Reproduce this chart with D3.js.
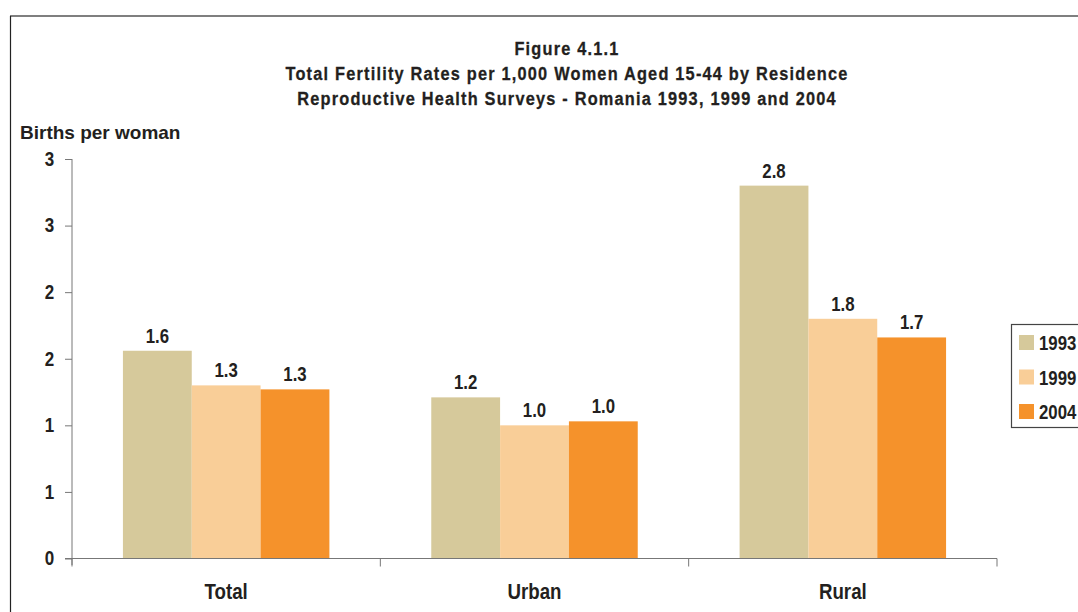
<html>
<head>
<script src="https://d3js.org/d3.v7.min.js"></script>
<style>
  body { margin: 0; background: #fff; }
  text { font-family: "Liberation Sans", Arial, sans-serif; font-weight: bold; fill: #231f20; }
</style>
</head>
<body>
<div id="chart-container"></div>
<script>
// Data
var categories = ["Total", "Urban", "Rural"]
var years = ["1993", "1999", "2004"]
var values1993 = [1.56, 1.21, 2.80]
var values1999 = [1.30, 1.00, 1.80]
var values2004 = [1.27, 1.03, 1.66]
var yTicks = [0, 0.5, 1, 1.5, 2, 2.5, 3]
var yTickLabels = ["0", "1", "1", "2", "2", "3", "3"]
var colors = ["#d6c99b", "#f9ce98", "#f5922b"]
var titleLines = ["Figure 4.1.1",
  "Total Fertility Rates per 1,000 Women Aged 15-44 by Residence",
  "Reproductive Health Surveys - Romania 1993, 1999 and 2004"]

const width = 1078
const height = 612
const series = [values1993, values1999, values2004]
const narrow = 0.8   // horizontal squeeze to mimic a condensed face

const svg = d3.select("#chart-container")
  .append("svg")
  .attr("width", width)
  .attr("height", height)

// frame lines (top and left)
svg.append("line").attr("x1", 10).attr("x2", width).attr("y1", 16).attr("y2", 16)
  .attr("stroke", "#555").attr("stroke-width", 1.5)
svg.append("line").attr("x1", 10.5).attr("x2", 10.5).attr("y1", 16).attr("y2", height)
  .attr("stroke", "#222").attr("stroke-width", 1.2)

// title
svg.selectAll(".title")
  .data(titleLines)
  .enter()
  .append("text")
  .attr("class", "title")
  .attr("transform", (d, i) => `translate(567,${55 + i * 25}) scale(0.86,1)`)
  .attr("text-anchor", "middle")
  .attr("font-size", 19)
  .attr("letter-spacing", 1.4)
  .style("stroke", "#231f20").style("stroke-width", 0.3)
  .text(d => d)

// scales
var x0 = d3.scaleBand().domain(categories).range([72, 997])
var x1 = d3.scaleBand().domain(years).range([0, x0.bandwidth()]).paddingInner(0).paddingOuter(0.74)
var y = d3.scaleLinear().domain([0, 3]).range([558.5, 159])

// bars
const groups = svg.selectAll(".grp")
  .data(categories)
  .enter()
  .append("g")
  .attr("transform", d => `translate(${x0(d)},0)`)

groups.selectAll("rect")
  .data((d, i) => years.map((yr, j) => ({ yr: yr, v: series[j][i], c: colors[j] })))
  .enter()
  .append("rect")
  .attr("x", d => x1(d.yr))
  .attr("width", x1.bandwidth())
  .attr("y", d => y(d.v))
  .attr("height", d => y(0) - y(d.v))
  .attr("fill", d => d.c)

groups.selectAll(".val")
  .data((d, i) => years.map((yr, j) => ({ yr: yr, v: series[j][i] })))
  .enter()
  .append("text")
  .attr("class", "val")
  .attr("transform", d => `translate(${x1(d.yr) + x1.bandwidth() / 2},${y(d.v) - 8}) scale(${narrow},1)`)
  .attr("text-anchor", "middle")
  .attr("font-size", 21)
  .text(d => d3.format(".1f")(d.v))

// y axis
const yAxis = svg.append("g")
  .attr("transform", "translate(72,0)")
  .call(d3.axisLeft(y).tickValues(yTicks).tickFormat((d, i) => yTickLabels[i]).tickSize(7).tickPadding(14))
yAxis.select(".domain").attr("stroke", "#777").attr("d", `M0,${y(3)}V565`)
yAxis.selectAll(".tick line").attr("stroke", "#777")
yAxis.selectAll(".tick text").attr("font-size", 20).attr("fill", "#231f20")
  .attr("transform", "scale(0.85,1)")
  .style("font-family", "'Liberation Sans', Arial, sans-serif")

// x axis
const xAxis = svg.append("g")
  .attr("transform", `translate(0,${y(0)})`)
  .call(d3.axisBottom(x0).tickValues([]).tickSizeOuter(0))
xAxis.select(".domain").attr("stroke", "#777").attr("d", "M65,0H997")
xAxis.selectAll(".sep")
  .data(categories.map(c => x0(c)).concat([x0("Rural") + x0.bandwidth()]))
  .enter()
  .append("line")
  .attr("class", "sep")
  .attr("x1", d => d).attr("x2", d => d)
  .attr("y1", 0).attr("y2", 8)
  .attr("stroke", "#777")

svg.selectAll(".cat")
  .data(categories)
  .enter()
  .append("text")
  .attr("class", "cat")
  .attr("transform", d => `translate(${x0(d) + x0.bandwidth() / 2},599) scale(0.85,1)`)
  .attr("text-anchor", "middle")
  .attr("font-size", 22)
  .text(d => d)

// y label
svg.append("text")
  .attr("x", 20)
  .attr("y", 139)
  .attr("font-size", 19)
  .text("Births per woman")

// legend
const legend = svg.append("g").attr("transform", "translate(1011,324)")
legend.append("rect")
  .attr("x", 0.5).attr("y", 0.5).attr("width", 90).attr("height", 103)
  .attr("fill", "#fff").attr("stroke", "#444").attr("stroke-width", 1.2)
legend.selectAll(".key")
  .data(years)
  .enter()
  .append("rect")
  .attr("x", 8).attr("y", (d, i) => 11 + i * 34.5)
  .attr("width", 15).attr("height", 15)
  .attr("fill", (d, i) => colors[i])
legend.selectAll(".lab")
  .data(years)
  .enter()
  .append("text")
  .attr("transform", (d, i) => `translate(28,${26 + i * 34.5}) scale(${narrow},1)`)
  .attr("font-size", 21)
  .text(d => d)
</script>
</body>
</html>
